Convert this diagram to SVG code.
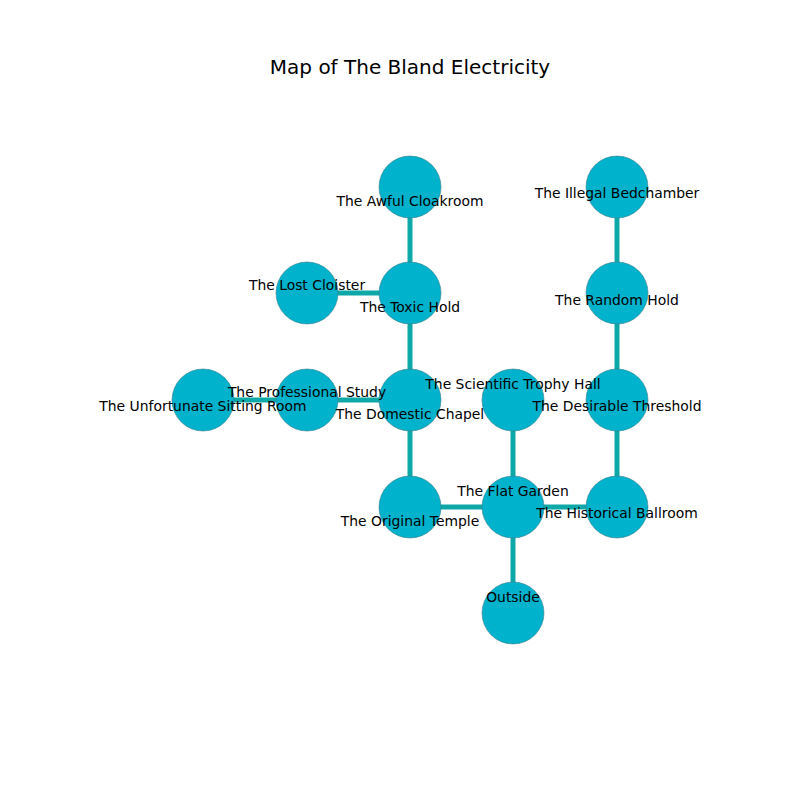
<svg xmlns="http://www.w3.org/2000/svg" width="800" height="800" viewBox="0 0 800 800">
<style>
.n{fill:#00b2cb;stroke:#3a7f8c;stroke-width:0.6}
.e line{stroke:#0fa8a8;stroke-width:5}
text{font-family:"DejaVu Sans",sans-serif;font-size:13.9px;fill:#000;text-anchor:middle;dominant-baseline:central}
.t{font-size:20px}
</style>
<rect width="800" height="800" fill="#fff"/>
<text class="t" x="410" y="67">Map of The Bland Electricity</text>
<g class="e" id="connectors">
<line x1="410" y1="187" x2="410" y2="293"/>
<line x1="307" y1="293" x2="410" y2="293"/>
<line x1="410" y1="293" x2="410" y2="400"/>
<line x1="203" y1="400" x2="307" y2="400"/>
<line x1="307" y1="400" x2="410" y2="400"/>
<line x1="410" y1="400" x2="410" y2="507"/>
<line x1="410" y1="507" x2="513" y2="507"/>
<line x1="513" y1="400" x2="513" y2="507"/>
<line x1="513" y1="507" x2="513" y2="613"/>
<line x1="513" y1="507" x2="617" y2="507"/>
<line x1="617" y1="400" x2="617" y2="507"/>
<line x1="617" y1="293" x2="617" y2="400"/>
<line x1="617" y1="187" x2="617" y2="293"/>
</g>
<g id="awful"><circle class="n" cx="410" cy="187" r="31"/></g>
<g id="toxic"><circle class="n" cx="410" cy="293" r="31"/></g>
<g id="lost"><circle class="n" cx="307" cy="293" r="31"/></g>
<g id="unfortunate"><circle class="n" cx="203" cy="400" r="31"/></g>
<g id="professional"><circle class="n" cx="307" cy="400" r="31"/></g>
<g id="domestic"><circle class="n" cx="410" cy="400" r="31"/></g>
<g id="scientific"><circle class="n" cx="513" cy="400" r="31"/></g>
<g id="desirable"><circle class="n" cx="617" cy="400" r="31"/></g>
<g id="original"><circle class="n" cx="410" cy="507" r="31"/></g>
<g id="flat"><circle class="n" cx="513" cy="507" r="31"/></g>
<g id="historical"><circle class="n" cx="617" cy="507" r="31"/></g>
<g id="outside"><circle class="n" cx="513" cy="613" r="31"/></g>
<g id="illegal"><circle class="n" cx="617" cy="187" r="31"/></g>
<g id="random"><circle class="n" cx="617" cy="293" r="31"/></g>
<g id="labels">
<text x="410" y="201">The Awful Cloakroom</text>
<text x="410" y="307">The Toxic Hold</text>
<text x="307" y="285">The Lost Cloister</text>
<text x="203" y="406">The Unfortunate Sitting Room</text>
<text x="307" y="392">The Professional Study</text>
<text x="410" y="414">The Domestic Chapel</text>
<text x="513" y="384">The Scientific Trophy Hall</text>
<text x="617" y="406">The Desirable Threshold</text>
<text x="410" y="521">The Original Temple</text>
<text x="513" y="491">The Flat Garden</text>
<text x="617" y="513">The Historical Ballroom</text>
<text x="513" y="597">Outside</text>
<text x="617" y="193">The Illegal Bedchamber</text>
<text x="617" y="300">The Random Hold</text>
</g>
</svg>
